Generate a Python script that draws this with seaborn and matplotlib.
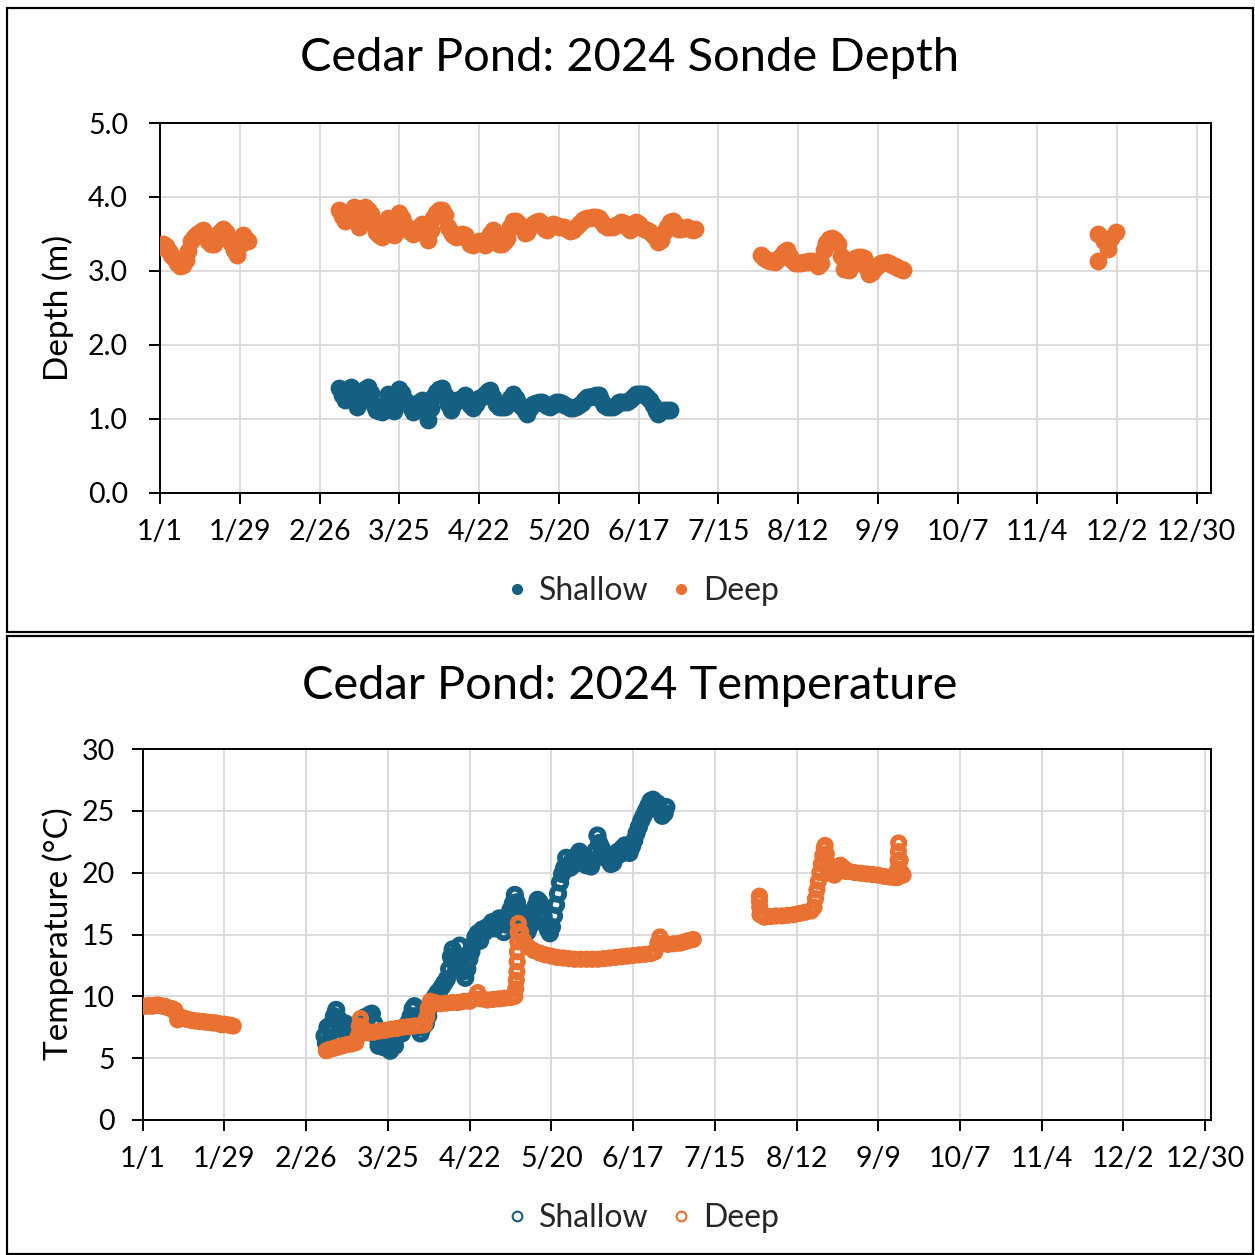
import numpy as np
import pandas as pd
import matplotlib
matplotlib.use("Agg")
import matplotlib.pyplot as plt
import seaborn as sns
from matplotlib.lines import Line2D
from matplotlib.patches import Rectangle

# ---------------- data (day of year 2024, 0 = Jan 1) ----------------
tick_days = [0, 28, 56, 84, 112, 140, 168, 196, 224, 252, 280, 308, 336, 364]
tick_labels = ["1/1", "1/29", "2/26", "3/25", "4/22", "5/20", "6/17", "7/15",
               "8/12", "9/9", "10/7", "11/4", "12/2", "12/30"]

# Depth, deep sonde (daily readings)
depth_deep1_day = list(range(0, 32))
depth_deep1_m = [3.32, 3.37, 3.33, 3.27, 3.22, 3.17, 3.10, 3.07, 3.08, 3.15, 3.27, 3.40, 3.46,
                 3.50, 3.53, 3.55, 3.50, 3.40, 3.36, 3.36, 3.45, 3.53, 3.56, 3.52, 3.45, 3.38,
                 3.28, 3.22, 3.35, 3.48, 3.45, 3.40]
depth_deep2_day = list(range(63, 189))
depth_deep2_m = [3.82, 3.74, 3.68, 3.72, 3.80, 3.86, 3.72, 3.60, 3.72, 3.86, 3.82, 3.77, 3.62,
                 3.52, 3.48, 3.46, 3.58, 3.72, 3.62, 3.48, 3.60, 3.78, 3.72, 3.62, 3.55, 3.52,
                 3.50, 3.55, 3.60, 3.64, 3.55, 3.42, 3.55, 3.72, 3.78, 3.82, 3.83, 3.75, 3.60,
                 3.52, 3.48, 3.46, 3.47, 3.50, 3.49, 3.42, 3.37, 3.35, 3.38, 3.41, 3.38, 3.35,
                 3.42, 3.50, 3.55, 3.45, 3.36, 3.37, 3.40, 3.45, 3.60, 3.68, 3.67, 3.64, 3.58,
                 3.51, 3.52, 3.60, 3.64, 3.66, 3.68, 3.64, 3.57, 3.55, 3.60, 3.64, 3.62, 3.60,
                 3.60, 3.59, 3.57, 3.54, 3.55, 3.60, 3.64, 3.67, 3.70, 3.71, 3.72, 3.73, 3.73,
                 3.72, 3.68, 3.62, 3.59, 3.59, 3.60, 3.62, 3.64, 3.66, 3.65, 3.60, 3.55, 3.60,
                 3.66, 3.64, 3.60, 3.57, 3.55, 3.52, 3.48, 3.44, 3.39, 3.42, 3.52, 3.60, 3.66,
                 3.68, 3.62, 3.56, 3.56, 3.58, 3.59, 3.57, 3.55, 3.56]
depth_deep3_day = list(range(211, 262))
depth_deep3_m = [3.21, 3.18, 3.15, 3.14, 3.13, 3.12, 3.16, 3.20, 3.25, 3.28, 3.22, 3.15, 3.11,
                 3.10, 3.11, 3.12, 3.12, 3.13, 3.14, 3.12, 3.07, 3.10, 3.28, 3.38, 3.43, 3.44,
                 3.42, 3.37, 3.20, 3.03, 3.02, 3.01, 3.08, 3.17, 3.19, 3.19, 3.17, 3.05, 2.96,
                 2.98, 3.04, 3.08, 3.10, 3.11, 3.12, 3.10, 3.08, 3.06, 3.04, 3.02, 3.01]
depth_deep4_day = [329.3, 329.3, 331.6, 332.8, 333.9, 335.7]
depth_deep4_m = [3.13, 3.50, 3.41, 3.30, 3.44, 3.53]

# Depth, shallow sonde (daily readings)
depth_shallow_day = list(range(63, 180))
depth_shallow_m = [1.41, 1.32, 1.25, 1.35, 1.43, 1.30, 1.16, 1.25, 1.34, 1.40, 1.43, 1.35, 1.18,
                   1.12, 1.10, 1.09, 1.20, 1.34, 1.25, 1.10, 1.25, 1.40, 1.35, 1.25, 1.21, 1.14,
                   1.09, 1.15, 1.22, 1.25, 1.12, 0.98, 1.15, 1.30, 1.36, 1.40, 1.41, 1.32, 1.20,
                   1.12, 1.18, 1.25, 1.25, 1.28, 1.32, 1.25, 1.18, 1.14, 1.20, 1.28, 1.30, 1.34,
                   1.38, 1.39, 1.30, 1.20, 1.16, 1.16, 1.16, 1.18, 1.28, 1.34, 1.28, 1.20, 1.16,
                   1.10, 1.07, 1.14, 1.20, 1.21, 1.22, 1.23, 1.20, 1.17, 1.16, 1.19, 1.22, 1.23,
                   1.21, 1.18, 1.17, 1.15, 1.14, 1.16, 1.19, 1.21, 1.25, 1.29, 1.30, 1.31, 1.32,
                   1.32, 1.25, 1.18, 1.16, 1.16, 1.16, 1.19, 1.22, 1.23, 1.23, 1.23, 1.25, 1.30,
                   1.34, 1.34, 1.34, 1.34, 1.30, 1.25, 1.18, 1.10, 1.07, 1.10, 1.12, 1.12, 1.12]

# Temperature, deep sonde
temp_deep_day = [0, 1, 2, 3, 4, 5, 6, 7, 8, 9, 10, 11, 11.5, 12, 13, 14, 15, 16, 17, 18, 19,
                 20, 21, 22, 23, 24, 25, 26, 27, 28, 29, 30, 31,
                 62.9, 64, 65.5, 67, 68.5, 70, 71.5, 73, 73.8, 74.2, 74.6, 75.5, 77, 79, 81,
                 83, 85, 87, 89, 91, 93, 95, 96.5, 97.3, 97.8, 98.5, 100, 102, 104, 106, 108,
                 110, 112, 113.5, 114.8, 116, 118, 120, 122, 124, 126, 127.5, 127.8, 128.0,
                 128.2, 128.3, 128.4, 128.5, 128.6, 128.7, 129.5, 130.5, 132, 134, 136, 138,
                 140, 142, 144, 146, 148, 150, 152, 154, 156, 158, 160, 162, 164, 166, 168,
                 170, 172, 174, 175.5, 176.5, 177.2, 178.5, 180, 182, 184, 185.5, 187, 188.6,
                 211.3, 211.3, 211.4, 211.5, 213, 215, 217, 219, 221, 223, 225, 227, 229, 230,
                 230.5, 231, 231.5, 232, 232.5, 233, 233.5, 233.8, 234.2, 234.5, 235, 236, 237,
                 238, 239, 240, 241, 242, 244, 246, 248, 250, 252, 254, 256, 257.5, 258.5,
                 258.7, 258.8, 258.9, 259.0, 259.5, 260.0, 260.5]
temp_deep_c = [9.2, 9.2, 9.25, 9.2, 9.25, 9.3, 9.25, 9.2, 9.15, 9.05, 9.0, 8.9, 8.6, 8.1, 8.2,
               8.25, 8.15, 8.1, 8.05, 8.0, 8.0, 7.95, 7.95, 7.9, 7.9, 7.85, 7.85, 7.8, 7.7,
               7.75, 7.7, 7.65, 7.6,
               5.6, 5.7, 5.8, 5.9, 6.0, 6.1, 6.15, 6.25, 6.8, 7.6, 8.2, 7.4, 7.05, 7.1, 7.2,
               7.25, 7.35, 7.4, 7.5, 7.55, 7.6, 7.65, 7.7, 8.3, 9.0, 9.6, 9.5, 9.4, 9.45, 9.5,
               9.5, 9.6, 9.6, 9.8, 10.3, 9.8, 9.7, 9.75, 9.8, 9.85, 9.9, 10.0, 10.6, 11.3,
               12.0, 12.8, 13.6, 14.4, 15.2, 15.9, 15.2, 14.5, 14.0, 13.7, 13.5, 13.35,
               13.25, 13.15, 13.1, 13.05, 13.0, 13.0, 13.0, 13.0, 13.0, 13.05, 13.1, 13.15,
               13.2, 13.25, 13.3, 13.35, 13.4, 13.45, 13.6, 14.3, 14.8, 14.3, 14.2, 14.25,
               14.3, 14.4, 14.5, 14.6,
               18.1, 17.7, 17.2, 16.6, 16.4, 16.45, 16.5, 16.5, 16.55, 16.6, 16.7, 16.8, 16.9,
               17.2, 17.9, 18.6, 19.3, 20.0, 20.7, 21.4, 22.0, 22.2, 21.5, 20.8, 20.2, 19.9,
               19.8, 20.2, 20.6, 20.4, 20.1, 20.1, 20.0, 19.95, 19.9, 19.85, 19.8, 19.7,
               19.65, 19.6, 19.6, 20.3, 21.0, 21.7, 22.4, 21.0, 20.0, 19.8]

# Temperature, shallow sonde
temp_shallow_day = [62.3, 62.8, 63.3, 64.0, 64.8, 65.5, 66.3, 67.0, 67.8, 68.6, 69.5, 70.3,
                    71.2, 72.0, 73.0, 74.0, 75.0, 76.0, 76.8, 77.6, 78.5, 79.3, 80.0, 80.8,
                    81.6, 82.4, 83.2, 84.0, 84.8, 85.6, 86.4, 87.2, 88.0, 88.8, 89.6, 90.3,
                    91.0, 91.8, 92.5, 93.1, 93.8, 94.5, 95.2, 96.0, 97.0, 97.8, 98.6, 99.4,
                    100.2, 101.0, 101.8, 102.6, 103.4, 104.2, 105.0, 105.6, 106.2, 106.8,
                    107.4, 108.0, 108.6, 109.2, 109.8, 110.5, 111.2, 111.9, 112.6, 113.3,
                    114.0, 114.8, 115.6, 116.3, 117.2, 118.0, 118.9, 119.7, 120.5, 121.3,
                    122.1, 122.9, 123.7, 124.5, 125.3, 126.0, 126.8, 127.5, 128.2, 128.9,
                    129.6, 130.3, 131.0, 131.8, 132.5, 133.2, 133.9, 134.6, 135.3, 136.0,
                    136.7, 137.4, 138.1, 138.8, 139.5, 140.2, 140.9, 141.6, 142.3, 143.0,
                    143.7, 144.4, 145.1, 145.8, 146.5, 147.2, 148.0, 148.8, 149.6, 150.4,
                    151.2, 152.0, 152.8, 153.6, 154.4, 155.2, 155.8, 156.4, 157.2, 158.0,
                    158.8, 159.6, 160.4, 161.2, 162.0, 162.8, 163.6, 164.4, 165.2, 166.0,
                    166.8, 167.6, 168.4, 169.2, 170.0, 170.8, 171.6, 172.4, 173.2, 174.0,
                    174.8, 175.6, 176.4, 177.2, 178.0, 178.8, 179.4]
temp_shallow_c = [6.8, 6.2, 7.5, 7.6, 7.2, 8.4, 8.9, 8.2, 7.6, 7.3, 7.8, 7.5,
                  7.0, 7.1, 7.6, 7.4, 7.9, 8.3, 8.1, 8.5, 8.6, 7.8, 6.8, 6.0,
                  6.4, 5.9, 6.2, 5.8, 5.6, 6.2, 6.0, 6.8, 7.2, 7.0, 7.5, 7.6,
                  7.9, 8.4, 9.0, 9.2, 8.4, 7.5, 7.0, 7.5, 7.8, 8.4, 9.2, 9.6,
                  10.0, 10.3, 10.5, 10.8, 11.1, 11.4, 12.2, 13.2, 13.8, 12.8,
                  12.2, 13.0, 14.1, 13.0, 12.0, 11.5, 12.2, 13.0, 13.6, 14.2,
                  14.8, 15.1, 14.5, 15.4, 15.2, 15.6, 15.7, 16.0, 15.5, 16.0,
                  16.3, 16.0, 15.2, 15.8, 16.5, 17.0, 17.5, 18.2, 17.6, 17.0,
                  16.4, 15.9, 15.6, 15.2, 15.6, 16.2, 16.8, 17.3, 17.8, 17.6,
                  17.2, 16.4, 15.8, 15.4, 15.1, 15.6, 16.5, 17.4, 18.3, 19.2,
                  19.9, 20.4, 21.2, 20.6, 20.4, 21.0, 20.7, 21.4, 21.7, 21.2,
                  20.8, 20.6, 20.7, 20.5, 21.0, 21.8, 23.0, 22.4, 22.0, 21.6,
                  21.2, 21.0, 20.7, 20.8, 21.3, 21.7, 21.5, 22.0, 22.2, 21.8,
                  21.6, 22.1, 22.6, 23.2, 23.7, 24.2, 24.6, 25.0, 25.4, 25.8,
                  25.9, 25.3, 25.6, 25.0, 24.6, 24.8, 25.3]

# ---------------- style ----------------
SHALLOW = "#156082"
DEEP = "#E97132"
GRID = "#d9d9d9"

sns.set_theme(style="white")
plt.rcParams["font.family"] = ["Lato", "DejaVu Sans"]
plt.rcParams["ytick.major.pad"] = 15
plt.rcParams["xtick.major.pad"] = 11

W = H = 1255
fig = plt.figure(figsize=(W / 100, H / 100), dpi=100)


def fx(px):
    return px / W


def fy(py):
    return 1 - py / H


# panel borders
fig.patches.append(Rectangle((fx(7), fy(632)), fx(1253 - 7), (632 - 8) / H,
                             transform=fig.transFigure, fill=False, ec="black", lw=1.6))
fig.patches.append(Rectangle((fx(7), fy(1254)), fx(1253 - 7), (1254 - 636) / H,
                             transform=fig.transFigure, fill=False, ec="black", lw=1.6))

ax1 = fig.add_axes([fx(160), fy(492.7), fx(1211 - 160), (492.7 - 123) / H])
ax2 = fig.add_axes([fx(142.7), fy(1120), fx(1211 - 142.7), (1120 - 749) / H])

# ---------------- top: depth ----------------
d_dp = pd.DataFrame({
    "day": depth_deep1_day + depth_deep2_day + depth_deep3_day + depth_deep4_day,
    "val": depth_deep1_m + depth_deep2_m + depth_deep3_m + depth_deep4_m})
d_sh = pd.DataFrame({"day": depth_shallow_day, "val": depth_shallow_m})
sns.scatterplot(data=d_dp, x="day", y="val", ax=ax1, color=DEEP, s=165, linewidth=0,
                legend=False, zorder=3)
sns.scatterplot(data=d_sh, x="day", y="val", ax=ax1, color=SHALLOW, s=165, linewidth=0,
                legend=False, zorder=3)
ax1.set_ylim(0, 5)
ax1.set_yticks(np.arange(0, 5.01, 1.0))
ax1.set_yticklabels([f"{v:.1f}" for v in np.arange(0, 5.01, 1.0)])
ax1.set_xlim(0, 369)

# ---------------- bottom: temperature ----------------
t_sh = pd.DataFrame({"day": temp_shallow_day, "val": temp_shallow_c})
t_dp = pd.DataFrame({"day": temp_deep_day, "val": temp_deep_c})
sns.scatterplot(data=t_sh, x="day", y="val", ax=ax2, color=SHALLOW, s=80,
                facecolor="none", edgecolor=SHALLOW, linewidth=4.2, legend=False, zorder=3)
sns.scatterplot(data=t_dp, x="day", y="val", ax=ax2, color=DEEP, s=70,
                facecolor="none", edgecolor=DEEP, linewidth=4.0, legend=False, zorder=3)
ax2.set_ylim(0, 30)
ax2.set_yticks(np.arange(0, 31, 5))
ax2.set_xlim(0, 366)

for ax, ypad in ((ax1, 15), (ax2, 12)):
    ax.set_xticks(tick_days)
    ax.set_xticklabels(tick_labels)
    ax.grid(True, color=GRID, lw=1.3)
    ax.set_axisbelow(True)
    for sp in ax.spines.values():
        sp.set_visible(True)
        sp.set_color("black")
        sp.set_linewidth(1.4)
    ax.tick_params(axis="x", direction="out", length=8, width=1.4, color="black",
                   labelsize=20.5, labelcolor="black", bottom=True, pad=11)
    ax.tick_params(axis="y", direction="out", length=8, width=1.4, color="black",
                   labelsize=20.5, labelcolor="black", left=True, pad=ypad)
    ax.set_xlabel("")
    ax.set_ylabel("")

# titles & axis labels
fig.text(fx(630), fy(58), "Cedar Pond: 2024 Sonde Depth", ha="center", va="center",
         fontsize=33.8, color="black")
fig.text(fx(630), fy(686), "Cedar Pond: 2024 Temperature", ha="center", va="center",
         fontsize=33.8, color="black")
fig.text(fx(58), fy(308), "Depth (m)", rotation=90, ha="center", va="center",
         fontsize=24, color="black")
fig.text(fx(58), fy(934), "Temperature (°C)", rotation=90, ha="center", va="center",
         fontsize=24, color="black")

# legends
h_fill = [Line2D([], [], ls="", marker="o", ms=7, color=SHALLOW, label="Shallow"),
          Line2D([], [], ls="", marker="o", ms=7, color=DEEP, label="Deep")]
h_open = [Line2D([], [], ls="", marker="o", ms=7, mfc="none", mec=SHALLOW, mew=1.5,
                 label="Shallow"),
          Line2D([], [], ls="", marker="o", ms=7, mfc="none", mec=DEEP, mew=1.5,
                 label="Deep")]
fig.legend(handles=h_fill, loc="center", bbox_to_anchor=(fx(640), fy(591)), ncol=2,
           frameon=False, fontsize=23, handletextpad=0.2, columnspacing=0.5,
           handlelength=1.0)
fig.legend(handles=h_open, loc="center", bbox_to_anchor=(fx(640), fy(1218)), ncol=2,
           frameon=False, fontsize=23, handletextpad=0.2, columnspacing=0.5,
           handlelength=1.0)

fig.savefig("out.png", dpi=100, facecolor="white")
